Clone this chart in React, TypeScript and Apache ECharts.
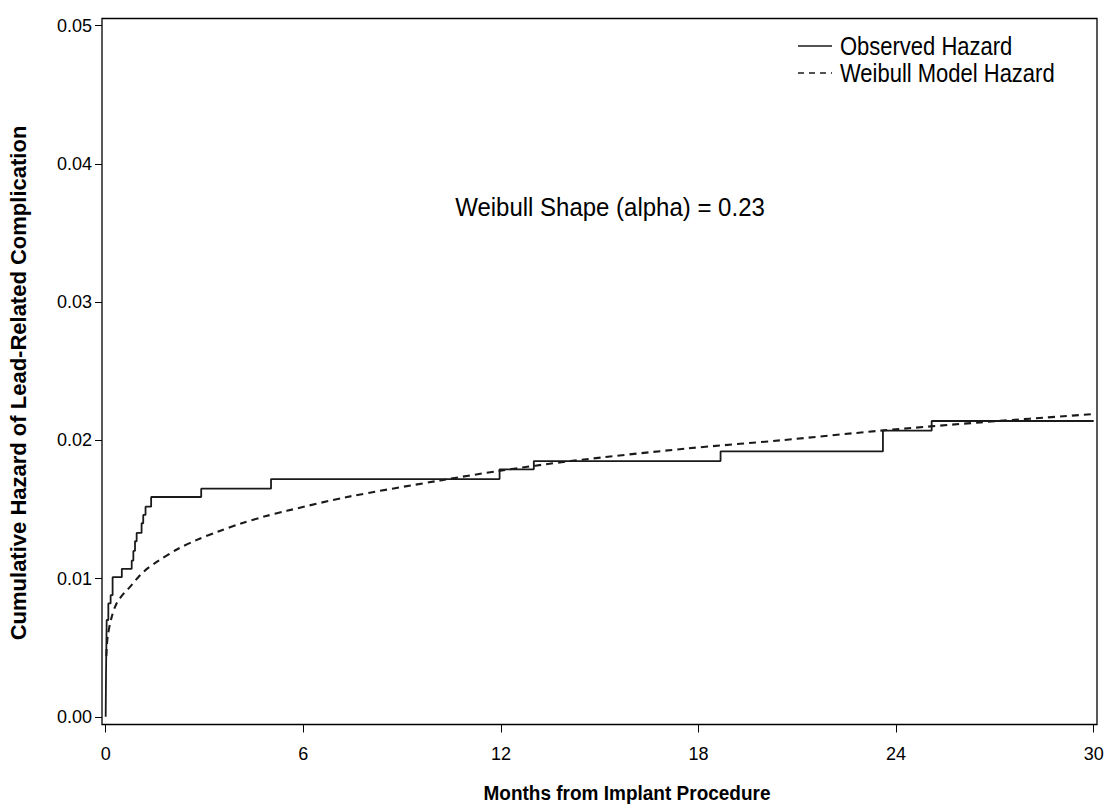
import React, { useEffect, useRef } from 'react';
import * as echarts from 'echarts';

// Observed cumulative hazard (step function): month of event, hazard after the step
const observedMonths = [0, 0.01, 0.03, 0.08, 0.15, 0.21, 0.49, 0.79, 0.84, 0.89, 0.94, 1.09, 1.14, 1.21, 1.38, 2.9, 5.02, 11.96, 13.0, 18.67, 23.6, 25.08, 30.0];
const observedHazard = [0, 0.0031, 0.007, 0.0082, 0.0088, 0.0101, 0.0107, 0.0113, 0.012, 0.0127, 0.0133, 0.014, 0.0146, 0.0152, 0.0159, 0.0165, 0.0172, 0.0179, 0.0185, 0.0192, 0.0207, 0.0214, 0.0214];

// Weibull model hazard
const weibullMonths = [0.02, 0.06, 0.18, 0.33, 0.54, 0.74, 0.99, 1.25, 1.55, 2.16, 2.77, 3.42, 4.13, 4.84, 5.5, 7.33, 10.16, 11.98, 14.11, 17.61, 20.49, 23.53, 26.57, 30.0];
const weibullHazard = [0.0044, 0.0058, 0.0072, 0.0082, 0.0089, 0.0094, 0.0101, 0.0107, 0.0112, 0.0121, 0.0128, 0.0134, 0.014, 0.0145, 0.0149, 0.0159, 0.0171, 0.0178, 0.0185, 0.0194, 0.02, 0.0207, 0.0213, 0.0219];

const xTicks = [0, 6, 12, 18, 24, 30];
const yTicks = [0, 0.01, 0.02, 0.03, 0.04, 0.05];
const seriesNames = ['Observed Hazard', 'Weibull Model Hazard'];
const xTitle = 'Months from Implant Procedure';
const yTitle = 'Cumulative Hazard of Lead-Related Complication';
const annotation = 'Weibull Shape (alpha) = 0.23';

const FONT = '"Liberation Sans", Arial, sans-serif';
const INK = '#1a1a1a';

export default function App() {
  const ref = useRef<HTMLDivElement>(null);
  useEffect(() => {
    if (!ref.current) return;
    const chart = echarts.init(ref.current, null, { renderer: 'svg' });
    const obs = observedMonths.map((m, i) => [m, observedHazard[i]]);
    const wei = weibullMonths.map((m, i) => [m, weibullHazard[i]]);
    const legendRow = (i: number, dashed: boolean) => ({
      type: 'group',
      x: 798,
      y: 46 + i * 27,
      children: [
        {
          type: 'line',
          shape: { x1: 0, y1: 0, x2: 34, y2: 0 },
          style: { stroke: INK, lineWidth: dashed ? 1.6 : 1.4, lineDash: dashed ? [6, 5] : null },
        },
        {
          type: 'text',
          x: 42, y: 0, scaleY: 1.15,
          style: { text: seriesNames[i], fill: '#000', font: `22px ${FONT}`, textAlign: 'left', textVerticalAlign: 'middle' },
        },
      ],
    });
    chart.setOption({
      animation: false,
      backgroundColor: '#ffffff',
      textStyle: { fontFamily: FONT },
      grid: {
        left: 102, right: 11, top: 18.5, bottom: 83.5,
        show: true, borderColor: '#000', borderWidth: 1.3, backgroundColor: 'transparent',
      },
      xAxis: {
        type: 'value', min: -0.112, max: 30.1,
        axisLine: { show: false, onZero: false },
        splitLine: { show: false },
        axisTick: { show: true, length: 8, customValues: xTicks, lineStyle: { color: '#000', width: 1 } },
        axisLabel: { customValues: xTicks, margin: 20, fontSize: 18, color: '#000', fontFamily: FONT },
      },
      yAxis: {
        type: 'value', min: -0.00056, max: 0.05052,
        axisLine: { show: false, onZero: false },
        splitLine: { show: false },
        axisTick: { show: true, length: 7, customValues: yTicks, lineStyle: { color: '#000', width: 1 } },
        axisLabel: {
          customValues: yTicks, margin: 10, fontSize: 18, color: '#000', fontFamily: FONT,
          formatter: (v: number) => v.toFixed(2),
        },
      },
      series: [
        {
          name: seriesNames[0], type: 'line', data: obs, step: 'end', symbol: 'none',
          lineStyle: { color: INK, width: 1.8 }, itemStyle: { color: INK },
        },
        {
          name: seriesNames[1], type: 'line', data: wei, smooth: 0.3, symbol: 'none',
          lineStyle: { color: INK, width: 2.1, type: [7, 5] }, itemStyle: { color: INK },
        },
      ],
      graphic: [
        legendRow(0, false),
        legendRow(1, true),
        {
          type: 'text', x: 610, y: 207, scaleY: 1.1,
          style: { text: annotation, fill: '#000', font: `24px ${FONT}`, textAlign: 'center', textVerticalAlign: 'middle' },
        },
        {
          type: 'text', x: 627, y: 793, scaleY: 1.1,
          style: { text: xTitle, fill: '#000', font: `bold 19px ${FONT}`, textAlign: 'center', textVerticalAlign: 'middle' },
        },
        {
          type: 'text', x: 18, y: 383, rotation: Math.PI / 2,
          style: { text: yTitle, fill: '#000', font: `bold 22px ${FONT}`, textAlign: 'center', textVerticalAlign: 'middle' },
        },
      ],
    });
    return () => chart.dispose();
  }, []);
  return <div ref={ref} style={{ position: 'absolute', left: 0, top: 0, width: 1108, height: 808 }} />;
}
